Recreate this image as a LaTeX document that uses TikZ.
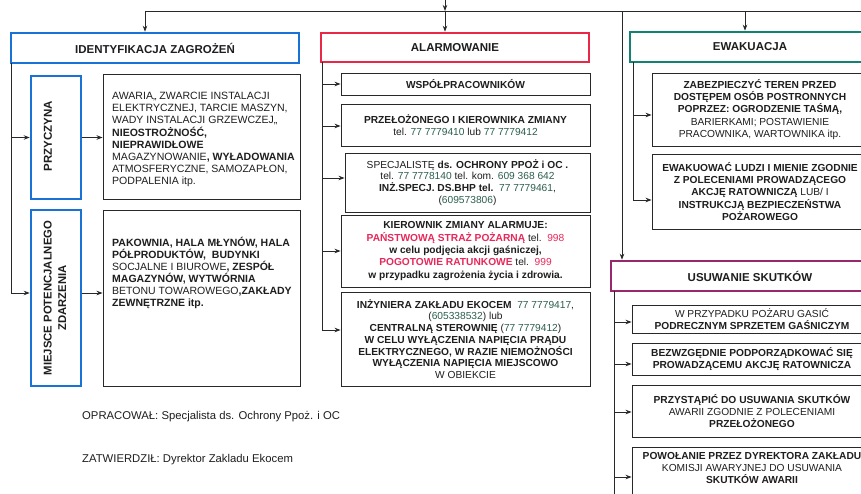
\documentclass[tikz,border=0pt]{standalone}
\usepackage{fontspec}
\setmainfont{Liberation Sans}
\usetikzlibrary{arrows.meta}
\definecolor{boxblue}{RGB}{25,115,215}
\definecolor{boxred}{RGB}{232,40,70}
\definecolor{boxteal}{RGB}{20,130,115}
\definecolor{boxpurple}{RGB}{150,40,110}
\definecolor{textred}{RGB}{232,40,90}
\definecolor{numgreen}{RGB}{45,95,80}
\definecolor{linegrey}{RGB}{40,40,40}
\definecolor{txtgrey}{RGB}{30,30,30}
\newcommand{\bodyfont}{\fontsize{10.2}{11.7}\selectfont}
\newcommand{\numc}[1]{\textcolor{numgreen}{#1}}
\newcommand{\redc}[1]{\textcolor{textred}{#1}}
\begin{document}
\begin{tikzpicture}[x=1pt,y=-1pt,
  hdr/.style={draw, line width=2.6pt, inner sep=0pt, text=txtgrey,
    font=\fontsize{11.5}{13}\selectfont\bfseries},
  hblue/.style={hdr, draw=boxblue},
  hred/.style={hdr, draw=boxred},
  hteal/.style={hdr, draw=boxteal},
  hpurple/.style={hdr, draw=boxpurple},
  tbox/.style={draw=linegrey, line width=0.9pt, inner sep=0pt, align=center,
    text=txtgrey, font=\bodyfont},
  txt/.style={inner sep=0pt, text=txtgrey, font=\bodyfont},
  rot/.style={inner sep=0pt, rotate=90, align=center, text=txtgrey},
  conn/.style={draw=linegrey, line width=0.8pt},
  arr/.style={conn, -{Stealth[length=6pt,width=4.5pt]}}]
\clip (0,0) rectangle (861,494);
\fill[white] (0,0) rectangle (861,494);

% ---------- column 1 ----------
\node[hblue, minimum width=288pt, minimum height=30pt] (ident) at (155,48) {IDENTYFIKACJA ZAGROŻEŃ};
\node[hblue, minimum width=50pt, minimum height=123pt] (przy) at (56,137.5) {};
\node[rot, font=\fontsize{11.5}{13}\selectfont\bfseries] (przyt) at (48,136) {PRZYCZYNA};
\node[hblue, minimum width=50pt, minimum height=176pt] (miej) at (56,298) {};
\node[rot, font=\fontsize{11.3}{14.5}\selectfont\bfseries] (miejt) at (55,298) {MIEJSCE POTENCJALNEGO\\ZDARZENIA};
\node[tbox, minimum width=197pt, minimum height=125pt] (t1box) at (201.5,136.5) {};
\node[txt, anchor=west, align=left, font=\fontsize{10.55}{12.1}\selectfont] (t1) at (112,139.5) {AWARIA,, ZWARCIE INSTALACJI\\
ELEKTRYCZNEJ, TARCIE MASZYN,\\
WADY INSTALACJI GRZEWCZEJ,,\\
\textbf{NIEOSTROŻNOŚĆ,}\\
\textbf{NIEPRAWIDŁOWE}\\
MAGAZYNOWANIE\textbf{, WYŁADOWANIA}\\
ATMOSFERYCZNE, SAMOZAPŁON,\\
PODPALENIA itp.};
\node[tbox, minimum width=197pt, minimum height=176pt] (t2box) at (201.5,298) {};
\node[txt, anchor=west, align=left, font=\fontsize{10.5}{12}\selectfont] (t2) at (112,273) {\textbf{PAKOWNIA, HALA MŁYNÓW, HALA}\\
\textbf{PÓŁPRODUKTÓW,\ \ BUDYNKI}\\
SOCJALNE I BIUROWE\textbf{, ZESPÓŁ}\\
\textbf{MAGAZYNÓW, WYTWÓRNIA}\\
BETONU TOWAROWEGO\textbf{,ZAKŁADY}\\
\textbf{ZEWNĘTRZNE itp.}};

% ---------- column 2 ----------
\node[hred, minimum width=268pt, minimum height=29pt] (alarm) at (455,47.5) {ALARMOWANIE};
\node[tbox, minimum width=249pt, minimum height=22pt, font=\bodyfont\bfseries] (wsp) at (465.5,84) {WSPÓŁPRACOWNIKÓW};
\node[tbox, minimum width=249pt, minimum height=42pt] (przel) at (465.5,125) {\textbf{PRZEŁOŻONEGO I KIEROWNIKA ZMIANY}\\
tel. \numc{77 7779410} lub \numc{77 7779412}};
\node[tbox, minimum width=245pt, minimum height=59pt] (spec) at (467.5,182.5) {SPECJALISTĘ \textbf{ds. OCHRONY PPOŻ i OC .}\\
tel. \numc{77 7778140} tel. kom. \numc{609 368 642}\\
\textbf{INŻ.SPECJ. DS.BHP tel.}\ \ \numc{77 7779461},\\
(\numc{609573806})};
\node[tbox, minimum width=249pt, minimum height=72pt, font=\fontsize{10.2}{12.3}\selectfont] (kier) at (465.5,251) {\textbf{KIEROWNIK ZMIANY ALARMUJE:}\\
\textbf{\redc{PAŃSTWOWĄ STRAŻ POŻARNĄ}} tel.\ \ \redc{998}\\
\textbf{w celu podjęcia akcji gaśniczej,}\\
\textbf{\redc{POGOTOWIE RATUNKOWE}} tel.\ \ \redc{999}\\
\textbf{w przypadku zagrożenia życia i zdrowia.}};
\node[tbox, minimum width=249pt, minimum height=94pt] (inz) at (465.5,339) {\textbf{INŻYNIERA ZAKŁADU EKOCEM}\ \ \numc{77 7779417},\\
(\numc{605338532}) lub\\
\textbf{CENTRALNĄ STEROWNIĘ} (\numc{77 7779412})\\
\textbf{W CELU WYŁĄCZENIA NAPIĘCIA PRĄDU}\\
\textbf{ELEKTRYCZNEGO, W RAZIE NIEMOŻNOŚCI}\\
\textbf{WYŁĄCZENIA NAPIĘCIA MIEJSCOWO}\\
W OBIEKCIE};

% ---------- column 3 ----------
\node[hteal, minimum width=240pt, minimum height=30pt] (ewak) at (750,47) {EWAKUACJA};
\node[tbox, minimum width=216pt, minimum height=73pt, font=\fontsize{10.2}{12.3}\selectfont] (zab) at (760,109.5) {\textbf{ZABEZPIECZYĆ TEREN PRZED}\\
\textbf{DOSTĘPEM OSÓB POSTRONNYCH}\\
\textbf{POPRZEZ: OGRODZENIE TAŚMĄ,}\\
BARIERKAMI; POSTAWIENIE\\
PRACOWNIKA, WARTOWNIKA itp.};
\node[tbox, minimum width=216pt, minimum height=75pt, font=\fontsize{10.2}{12.3}\selectfont] (ewu) at (760,191.5) {\textbf{EWAKUOWAĆ LUDZI I MIENIE ZGODNIE}\\
\textbf{Z POLECENIAMI PROWADZĄCEGO}\\
\textbf{AKCJĘ RATOWNICZĄ} LUB/ I\\
\textbf{INSTRUKCJĄ BEZPIECZEŃSTWA}\\
\textbf{POŻAROWEGO}};
\node[hpurple, minimum width=278pt, minimum height=30pt] (usuw) at (750,276) {USUWANIE SKUTKÓW};
\node[tbox, minimum width=240pt, minimum height=28pt] (wprz) at (752,319) {W PRZYPADKU POŻARU GASIĆ\\
\textbf{PODRECZNYM SPRZETEM GAŚNICZYM}};
\node[tbox, minimum width=240pt, minimum height=32pt] (bez) at (752,359) {\textbf{BEZWZGĘDNIE PODPORZĄDKOWAĆ SIĘ}\\
\textbf{PROWADZĄCEMU AKCJĘ RATOWNICZA}};
\node[tbox, minimum width=240pt, minimum height=52pt] (przys) at (752,411) {\textbf{PRZYSTĄPIĆ DO USUWANIA SKUTKÓW}\\
AWARII ZGODNIE Z POLECENIAMI\\
\textbf{PRZEŁOŻONEGO}};
\node[tbox, minimum width=240pt, minimum height=70pt] (pow) at (752,482) {};
\node[txt, align=center] (powt) at (752,468) {\textbf{POWOŁANIE PRZEZ DYREKTORA ZAKŁADU}\\
KOMISJI AWARYJNEJ DO USUWANIA\\
\textbf{SKUTKÓW AWARII}};

% ---------- footer ----------
\node[txt, anchor=west, font=\fontsize{11.3}{13}\selectfont] (opr) at (82,417) {OPRACOWAŁ: Specjalista ds. Ochrony Ppoż. i OC};
\node[txt, anchor=west, font=\fontsize{11.3}{13}\selectfont] (zatw) at (82,460) {ZATWIERDZIŁ: Dyrektor Zakladu Ekocem};

% ---------- top distribution ----------
\coordinate (topin) at (445,0);
\coordinate (hl) at (445,11);
\coordinate (hlL) at (145,11);
\coordinate (hlR) at (870,11);
\coordinate (hlU) at (622,11);
\coordinate (hlE) at (745,11);
\draw[arr] (topin) -- (hl);
\draw[conn] (hlL) -- (hlR);
\draw[arr] (hlL) -- (hlL |- ident.north);
\draw[arr] (hl) -- (hl |- alarm.north);
\draw[arr] (hlE) -- (hlE |- ewak.north);
\draw[arr] (hlU) -- (hlU |- usuw.north);

% ---------- column 1 connectors ----------
\coordinate (lt) at (11,63);
\coordinate (lb) at (11,293);
\draw[arr] (lt) |- (lb -| miej.west);
\draw[arr] (lt |- przy.west) -- (przy.west);
\draw[arr] (przy.east) -- (t1box.west |- przy.east);
\draw[arr] (lb -| miej.east) -- (lb -| t2box.west);

% ---------- column 2 connectors ----------
\coordinate (at) at (322,62);
\coordinate (a1) at (322,84);
\coordinate (a2) at (322,126);
\coordinate (a3) at (322,178);
\coordinate (a4) at (322,251);
\coordinate (a5) at (322,330);
\draw[conn] (at) -- (a5);
\draw[arr] (a1) -- (a1 -| wsp.west);
\draw[arr] (a2) -- (a2 -| przel.west);
\draw[arr] (a3) -- (a3 -| spec.west);
\draw[arr] (a4) -- (a4 -| kier.west);
\draw[arr] (a5) -- (a5 -| inz.west);

% ---------- column 3 connectors ----------
\coordinate (et) at (633,62);
\coordinate (e1) at (633,115);
\coordinate (e2) at (633,200);
\draw[conn] (et) -- (e2);
\draw[arr] (e1) -- (e1 -| zab.west);
\draw[arr] (e2) -- (e2 -| ewu.west);
\coordinate (ut) at (614,291);
\coordinate (ue) at (614,500);
\coordinate (u1) at (614,322);
\coordinate (u2) at (614,364);
\coordinate (u3) at (614,412);
\coordinate (u4) at (614,477);
\draw[conn] (ut) -- (ue);
\draw[arr] (u1) -- (u1 -| wprz.west);
\draw[arr] (u2) -- (u2 -| bez.west);
\draw[arr] (u3) -- (u3 -| przys.west);
\draw[arr] (u4) -- (u4 -| pow.west);
\end{tikzpicture}
\end{document}
